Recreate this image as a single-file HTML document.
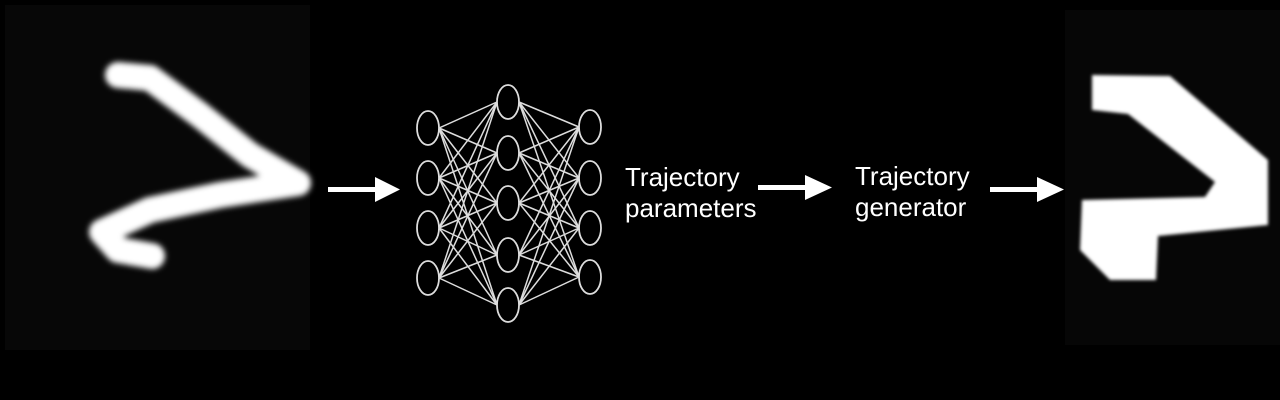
<!DOCTYPE html>
<html><head><style>
html,body{margin:0;padding:0;background:#000;width:1280px;height:400px;overflow:hidden}
svg{display:block}
text{font-family:"Liberation Sans",sans-serif;fill:#fff;font-size:26px}
</style></head><body>
<svg width="1280" height="400" viewBox="0 0 1280 400">
<defs>
<filter id="b" x="-20%" y="-20%" width="140%" height="140%"><feGaussianBlur stdDeviation="3"/></filter>
<filter id="b2"><feGaussianBlur stdDeviation="1.5"/></filter>
</defs>
<rect width="1280" height="400" fill="#000"/>
<rect x="5" y="5" width="305" height="345" fill="#070707"/>
<rect x="1065" y="10" width="215" height="335" fill="#060606"/>
<!-- left digit -->
<polyline points="118,75 150,78 200,115 250,155 298,183 220,195 150,210 102,232 118,250 152,256" fill="none" stroke="#fff" stroke-width="26" stroke-linejoin="round" stroke-linecap="round" filter="url(#b)"/>
<!-- right digit -->
<polygon points="1092,75 1170,76 1268,160 1268,225 1158,236 1156,280 1110,280 1080,250 1082,200 1205,197 1215,182 1128,114 1092,110" fill="#fff" filter="url(#b2)"/>
<!-- arrows -->
<g fill="#fff">
<rect x="328" y="187" width="50" height="5"/><polygon points="375,177 400,189.5 375,202"/>
<rect x="758" y="185" width="50" height="5"/><polygon points="805,175 832,187.5 805,200"/>
<rect x="990" y="187" width="50" height="5"/><polygon points="1037,177 1064,189.5 1037,202"/>
</g>
<!-- network -->
<g stroke="#ddd" stroke-width="1.5" fill="none" id="net">
<g id="lines"></g>
</g>
<g stroke="#ddd" stroke-width="1.8" fill="#000">
<ellipse cx="428" cy="128" rx="11" ry="17"/><ellipse cx="428" cy="178" rx="11" ry="17"/><ellipse cx="428" cy="228" rx="11" ry="17"/><ellipse cx="428" cy="278" rx="11" ry="17"/>
<ellipse cx="508" cy="102" rx="11" ry="17"/><ellipse cx="508" cy="153" rx="11" ry="17"/><ellipse cx="508" cy="203" rx="11" ry="17"/><ellipse cx="508" cy="255" rx="11" ry="17"/><ellipse cx="508" cy="305" rx="11" ry="17"/>
<ellipse cx="590" cy="127" rx="11" ry="17"/><ellipse cx="590" cy="178" rx="11" ry="17"/><ellipse cx="590" cy="228" rx="11" ry="17"/><ellipse cx="590" cy="277" rx="11" ry="17"/>
</g>
<text x="625" y="186">Trajectory</text>
<text x="625" y="217">parameters</text>
<text x="855" y="185">Trajectory</text>
<text x="855" y="216">generator</text>
</svg>
<script>
var L=[128,178,228,278],M=[102,153,203,255,305],R=[127,178,228,277],s='';
L.forEach(function(a){M.forEach(function(b){s+='<line x1="439" y1="'+a+'" x2="497" y2="'+b+'"/>';});});
M.forEach(function(b){R.forEach(function(c){s+='<line x1="519" y1="'+b+'" x2="579" y2="'+c+'"/>';});});
document.getElementById('lines').innerHTML=s;
</script>
</body></html>
